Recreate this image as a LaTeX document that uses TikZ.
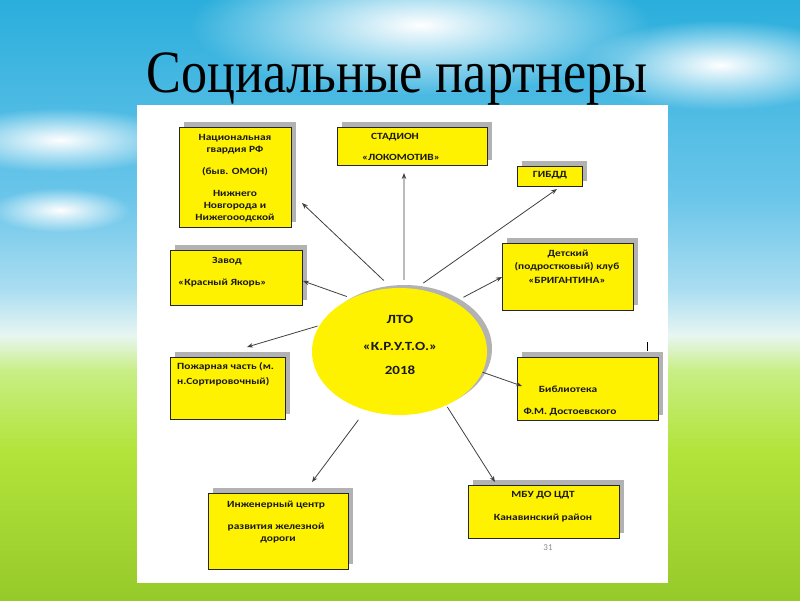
\documentclass[tikz,border=0pt]{standalone}
\usepackage{fontspec}
\setmainfont{Liberation Serif}
\newfontfamily\titlefont{Liberation Serif}
\newfontfamily\boxfont{Carlito}
\newcommand\bxs[1]{\scalebox{1.2}[1]{#1}}
\usetikzlibrary{arrows.meta,shadows,fadings,shapes.geometric}
\definecolor{skyA}{HTML}{2AAEDC}
\definecolor{skyB}{HTML}{6CC6EA}
\definecolor{skyC}{HTML}{ABDEF1}
\definecolor{pale}{HTML}{E8F6F2}
\definecolor{greenA}{HTML}{C8EE85}
\definecolor{lime}{HTML}{B2E43A}
\definecolor{grass}{HTML}{96CA2A}
\tikzfading[name=cloudfade, inner color=transparent!0, outer color=transparent!100]
\tikzset{
  pbox/.style={draw=black!85, line width=0.8pt, fill=yellow, inner sep=0pt,
    drop shadow={shadow xshift=5pt, shadow yshift=5pt, fill=black!30, opacity=1}},
  btxt/.style={font=\boxfont\bfseries\fontsize{9.5}{11}\selectfont, text=black!90, align=center, inner sep=0pt},
  ctxt/.style={font=\boxfont\bfseries\fontsize{12.5}{14}\selectfont, text=black!90, inner sep=0pt},
  arr/.style={draw=black!75, line width=0.8pt, -{Stealth[length=6pt,width=4.5pt]}},
}
\begin{document}
\begin{tikzpicture}[x=1pt,y=-1pt]
\useasboundingbox (0,0) rectangle (800,600);
% background
\shade[top color=skyA, bottom color=skyB] (0,0) rectangle (800,201);
\shade[top color=skyB, bottom color=skyC] (0,200) rectangle (800,291);
\shade[top color=skyC, bottom color=pale] (0,290) rectangle (800,336);
\shade[top color=pale, bottom color=greenA] (0,335) rectangle (800,371);
\shade[top color=greenA, bottom color=lime] (0,370) rectangle (800,451);
\shade[top color=lime, bottom color=grass] (0,450) rectangle (800,600);
\fill[white, path fading=cloudfade] (420,25) ellipse (230 and 70);
\fill[white, path fading=cloudfade] (60,140) ellipse (120 and 32);
\fill[white, path fading=cloudfade] (60,210) ellipse (70 and 22);
\fill[white, path fading=cloudfade] (720,65) ellipse (140 and 45);
% white panel
\fill[white] (137,105) rectangle (668,583);
% title
\node[font=\titlefont\fontsize{60}{62}\selectfont, anchor=base, inner sep=0pt] (title) at (397,92) {\scalebox{0.87}[1]{Социальные партнеры}};
% centre
\node[ellipse, fill=yellow, minimum width=175, minimum height=127, inner sep=0pt,
  drop shadow={shadow xshift=5pt, shadow yshift=3pt, fill=black!30, opacity=1}] (lto) at (399.5,351.5) {};
\node[ctxt] (ltoA) at (400,319) {\bxs{ЛТО}};
\node[ctxt] (ltoB) at (400,346) {\bxs{«К.Р.У.Т.О.»}};
\node[ctxt] (ltoC) at (400,370) {\bxs{2018}};
% boxes
\node[pbox, minimum width=112, minimum height=100] (nat) at (235,177) {};
\node[pbox, minimum width=150, minimum height=38] (stad) at (412,146) {};
\node[pbox, minimum width=65, minimum height=20] (gibdd) at (549.5,176) {};
\node[pbox, minimum width=131, minimum height=67] (det) at (567.5,276.5) {};
\node[pbox, minimum width=132, minimum height=55] (zavod) at (236,277.5) {};
\node[pbox, minimum width=115, minimum height=62] (pozh) at (227.5,388) {};
\node[pbox, minimum width=141, minimum height=63] (bibl) at (587.5,388.5) {};
\node[pbox, minimum width=140, minimum height=76] (inzh) at (278,531) {};
\node[pbox, minimum width=151, minimum height=53] (mbu) at (543.5,511.5) {};
% texts
\node[btxt] (natA) at (235,138) {\bxs{Национальная}};
\node[btxt] (natB) at (235,150) {\bxs{гвардия РФ}};
\node[btxt] (natC) at (235,172) {\bxs{(быв. ОМОН)}};
\node[btxt] (natD) at (235,193) {\bxs{Нижнего}};
\node[btxt] (natE) at (235,206) {\bxs{Новгорода и}};
\node[btxt] (natF) at (235,218) {\bxs{Нижегооодской}};
\node[btxt] (stadA) at (395,137) {\bxs{СТАДИОН}};
\node[btxt] (stadB) at (401,157) {\bxs{«ЛОКОМОТИВ»}};
\node[btxt] (gibddA) at (550,175) {\bxs{ГИБДД}};
\node[btxt] (detA) at (568,254) {\bxs{Детский}};
\node[btxt] (detB) at (567,267) {\bxs{(подростковый) клуб}};
\node[btxt] (detC) at (567,280) {\bxs{«БРИГАНТИНА»}};
\node[btxt, anchor=west] (zavA) at (212,261) {\bxs{Завод}};
\node[btxt, anchor=west] (zavB) at (178,283) {\bxs{«Красный Якорь»}};
\node[btxt, anchor=west] (pozA) at (177,367) {\bxs{Пожарная часть (м.}};
\node[btxt, anchor=west] (pozB) at (177,382) {\bxs{н.Сортировочный)}};
\node[btxt] (bibA) at (568,389) {\bxs{Библиотека}};
\node[btxt] (bibB) at (570,412) {\bxs{Ф.М. Достоевского}};
\node[btxt] (inzA) at (276,505) {\bxs{Инженерный центр}};
\node[btxt] (inzB) at (276,527) {\bxs{развития железной}};
\node[btxt] (inzC) at (278,540) {\bxs{дороги}};
\node[btxt] (mbuA) at (543,495) {\bxs{МБУ ДО ЦДТ}};
\node[btxt] (mbuB) at (543,518) {\bxs{Канавинский район}};
\node[font=\boxfont\fontsize{9}{10}\selectfont, text=black!45, inner sep=0pt] (pg) at (548,548) {31};
\draw[line width=1pt, black] (647,342) -- (647,351);
% arrow tips
\coordinate (tNat) at (302,203);
\coordinate (tStad) at (404,173);
\coordinate (tGibdd) at (557,189);
\coordinate (tDet) at (502,277);
\coordinate (tZav) at (303,281);
\coordinate (tPoz) at (247,347);
\coordinate (tBib) at (522,386);
\coordinate (tInz) at (312,482);
\coordinate (tMbu) at (495,482);
% connectors
\draw[arr, shorten <=11pt] (lto.97.3) -- (tNat);
\draw[arr, shorten <=8pt] (lto.86.4) -- (tStad);
\draw[arr, shorten <=10pt] (lto.76.4) -- (tGibdd);
\draw[arr, shorten <=10pt] (lto.42.1) -- (tDet);
\draw[arr, shorten <=5pt] (lto.132.3) -- (tZav);
\draw[arr, shorten <=2pt] (lto.162) -- (tPoz);
\draw[arr] (lto.-14.6) -- (tBib);
\draw[arr, shorten <=12pt] (lto.-120.6) -- (tInz);
\draw[arr, shorten <=2pt] (lto.-49.4) -- (tMbu);
\end{tikzpicture}
\end{document}
